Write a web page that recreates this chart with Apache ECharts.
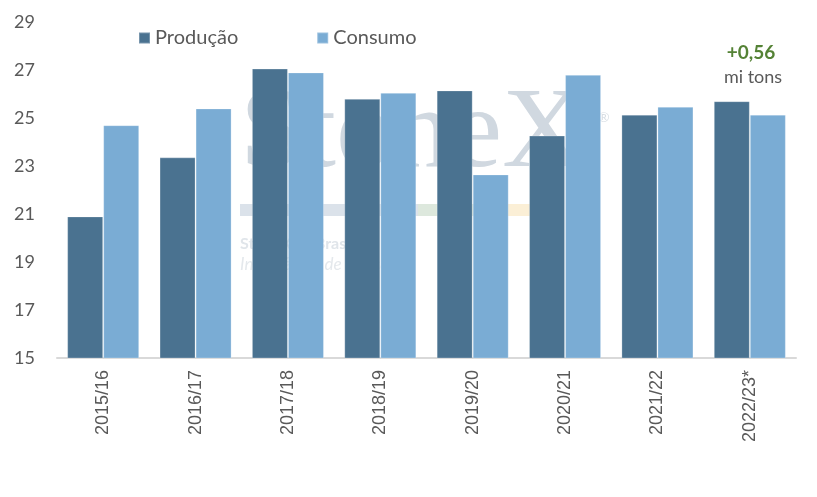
<!DOCTYPE html>
<html>
<head>
<meta charset="utf-8">
<script src="https://cdn.jsdelivr.net/npm/echarts@6/dist/echarts.min.js"></script>
<style>
html,body{margin:0;padding:0;background:#fff;}
#main{width:817px;height:497px;}
</style>
</head>
<body>
<div id="main"></div>
<script>
var safras=['2015/16','2016/17','2017/18','2018/19','2019/20','2020/21','2021/22','2022/23*'];
var producao=[20.9,23.36,27.06,25.8,26.15,24.27,25.14,25.7];
var consumo=[24.7,25.4,26.9,26.05,22.65,26.8,25.47,25.14];
var nomes=['Produção','Consumo'];
var cores=['#4a7290','#7aacd4'];
var nota_valor='+0,56';
var nota_unidade='mi tons';

var myChart=echarts.init(document.getElementById('main'));
var option={
	animation:false,
	color:cores,
	textStyle:{fontFamily:'Lato'},
	legend:{
		top:23,
		left:133,
		itemWidth:11,
		itemHeight:11,
		itemGap:78,
		icon:'rect',
		textStyle:{fontSize:20,color:'#595959',fontFamily:'Lato'},
		data:nomes
	},
	graphic:[
		// marca d'agua
		{type:'text',z:-10,silent:true,
			style:{text:'StoneX',x:240,y:78,font:'115px "Liberation Serif"',fill:'#d0d8e0'}},
		{type:'text',z:-10,silent:true,
			style:{text:'®',x:598,y:110,font:'14px Lato',fill:'#d8dee4'}},
		{type:'rect',z:-10,silent:true,shape:{x:240,y:204,width:178,height:12},style:{fill:'#dbe2ea'}},
		{type:'rect',z:-10,silent:true,shape:{x:418,y:204,width:70,height:12},style:{fill:'#dde8dd'}},
		{type:'rect',z:-10,silent:true,shape:{x:505,y:204,width:25,height:12},style:{fill:'#fbefd6'}},
		{type:'text',z:-10,silent:true,
			style:{text:'StoneX      Brasil',x:240,y:236,font:'bold 16px Lato',fill:'#e0e5ea'}},
		{type:'text',z:-10,silent:true,
			style:{text:'Inteligência de mercado',x:240,y:256,font:'italic 17px Lato',fill:'#e4e8ec'}},
		// nota
		{type:'text',z:10,
			style:{text:nota_valor,x:751,y:53,font:'bold 19px Lato',fill:'#548235',align:'center',verticalAlign:'middle'}},
		{type:'text',z:10,
			style:{text:nota_unidade,x:753,y:77,font:'18px Lato',fill:'#595959',align:'center',verticalAlign:'middle'}}
	],
	grid:{left:57,right:21,top:22,bottom:139,containLabel:false},
	xAxis:[{
		type:'category',
		data:safras,
		axisLine:{lineStyle:{color:'#d9d9d9',width:2}},
		axisTick:{show:false},
		axisLabel:{rotate:90,margin:12,fontSize:18,color:'#595959',fontFamily:'Liberation Sans'}
	}],
	yAxis:[{
		type:'value',
		min:15,
		max:29,
		interval:2,
		splitLine:{show:false},
		axisLine:{show:false},
		axisTick:{show:false},
		axisLabel:{align:'left',margin:43,fontSize:18,color:'#595959',fontFamily:'Lato'}
	}],
	series:[]
};
var valores=[producao,consumo];
for(var i=0;i<nomes.length;i++){
	option.series.push({
		name:nomes[i],
		type:'bar',
		barWidth:'39%',
		barGap:'0%',
		itemStyle:{borderColor:'rgba(255,255,255,0.25)',borderWidth:1},
		data:valores[i]
	});
}
myChart.setOption(option);
</script>
</body>
</html>
